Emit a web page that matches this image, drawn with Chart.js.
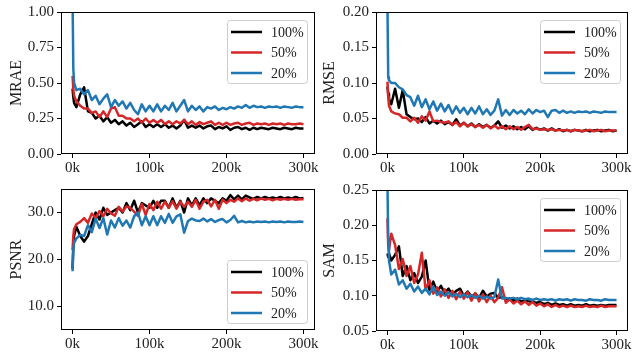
<!DOCTYPE html>
<html>
<head>
<meta charset="utf-8">
<script src="https://cdn.jsdelivr.net/npm/chart.js@4.4.1/dist/chart.umd.min.js"></script>
<style>
body { margin:0; background:#fff; width:633px; height:352px; position:relative; overflow:hidden; }
canvas { position:absolute; }
</style>
</head>
<body>
<canvas id="mrae" width="320" height="176" style="left:0;top:0"></canvas>
<canvas id="rmse" width="320" height="176" style="left:313px;top:0"></canvas>
<canvas id="psnr" width="320" height="176" style="left:0;top:176px"></canvas>
<canvas id="sam" width="320" height="176" style="left:313px;top:176px"></canvas>
<script>
// training iterations (in thousands)
const stepsK = [0,1,2,5,
  10,15,20,25,30,35,40,45,50,55,
  60,65,70,75,80,85,90,95,100,105,
  110,115,120,125,130,135,140,145,150,155,
  160,165,170,175,180,185,190,195,200,205,
  210,215,220,225,230,235,240,245,250,255,
  260,265,270,275,280,285,290,295,300];

const seriesLabels = ['100%', '50%', '20%'];
const seriesColors = ['#000000', '#d62728', '#1f77b4'];
const xTicks = [0, 100, 200, 300];

// MRAE
const mraeFull = [0.46,0.40,0.36,0.33,
  0.42,0.47,0.30,0.29,0.25,0.27,0.23,0.26,0.22,0.24,
  0.21,0.23,0.20,0.22,0.19,0.21,0.23,0.19,0.21,0.19,
  0.21,0.19,0.21,0.185,0.20,0.18,0.20,0.24,0.185,0.20,
  0.185,0.20,0.18,0.195,0.20,0.175,0.19,0.18,0.195,0.17,
  0.185,0.19,0.175,0.185,0.17,0.185,0.175,0.185,0.18,0.175,
  0.185,0.18,0.175,0.185,0.18,0.175,0.185,0.18,0.18];
const mraeHalf = [0.55,0.46,0.41,0.37,
  0.34,0.32,0.32,0.29,0.30,0.26,0.30,0.26,0.32,0.33,
  0.27,0.27,0.25,0.25,0.23,0.25,0.22,0.25,0.22,0.24,
  0.22,0.24,0.21,0.23,0.21,0.23,0.215,0.24,0.21,0.23,
  0.205,0.225,0.21,0.22,0.23,0.205,0.22,0.205,0.22,0.205,
  0.215,0.22,0.205,0.215,0.22,0.205,0.215,0.21,0.215,0.205,
  0.215,0.21,0.215,0.205,0.215,0.21,0.21,0.215,0.21];
const mraeFifth = [1.10,0.60,0.50,0.45,
  0.46,0.42,0.45,0.38,0.41,0.35,0.39,0.42,0.33,0.38,
  0.34,0.37,0.32,0.36,0.31,0.28,0.35,0.30,0.34,0.30,
  0.35,0.30,0.34,0.31,0.36,0.30,0.34,0.38,0.30,0.34,
  0.31,0.335,0.30,0.33,0.32,0.335,0.31,0.325,0.315,0.33,
  0.32,0.335,0.325,0.345,0.325,0.34,0.33,0.335,0.325,0.335,
  0.33,0.335,0.325,0.335,0.33,0.325,0.335,0.33,0.33];
const mraeTicks = [0, 0.25, 0.5, 0.75, 1.0];

// RMSE
const rmseFull = [0.095,0.085,0.078,0.070,
  0.092,0.065,0.090,0.056,0.052,0.049,0.050,0.045,0.052,0.043,
  0.047,0.043,0.047,0.042,0.045,0.041,0.049,0.040,0.044,0.039,
  0.043,0.038,0.042,0.038,0.041,0.037,0.040,0.046,0.037,0.040,
  0.036,0.039,0.035,0.038,0.035,0.039,0.034,0.037,0.034,0.036,
  0.033,0.036,0.033,0.035,0.032,0.034,0.032,0.034,0.033,0.032,
  0.034,0.032,0.033,0.034,0.032,0.033,0.034,0.032,0.033];
const rmseHalf = [0.102,0.080,0.068,0.060,
  0.057,0.056,0.051,0.051,0.046,0.051,0.044,0.053,0.047,0.060,
  0.046,0.047,0.045,0.044,0.046,0.041,0.045,0.039,0.044,0.039,
  0.042,0.038,0.041,0.037,0.041,0.036,0.040,0.036,0.039,0.035,
  0.039,0.035,0.038,0.034,0.038,0.041,0.035,0.036,0.034,0.035,
  0.034,0.035,0.033,0.034,0.033,0.034,0.032,0.034,0.033,0.032,
  0.033,0.034,0.032,0.033,0.034,0.032,0.033,0.033,0.033];
const rmseFifth = [0.210,0.108,0.104,0.100,
  0.100,0.094,0.091,0.083,0.080,0.068,0.082,0.066,0.077,0.063,
  0.074,0.061,0.071,0.060,0.069,0.057,0.067,0.058,0.065,0.056,
  0.065,0.057,0.067,0.056,0.063,0.055,0.061,0.077,0.054,0.062,
  0.055,0.062,0.057,0.061,0.056,0.063,0.057,0.062,0.059,0.061,
  0.052,0.061,0.062,0.058,0.061,0.058,0.060,0.058,0.060,0.059,
  0.060,0.058,0.060,0.059,0.058,0.060,0.059,0.059,0.059];
const rmseTicks = [0, 0.05, 0.1, 0.15, 0.2];

// PSNR
const psnrFull = [18.0,23.0,25.0,27.0,
  25.0,23.8,25.0,27.5,30.0,28.5,31.0,29.5,30.0,30.5,
  31.0,30.0,32.0,30.5,32.5,30.0,32.0,31.5,31.0,32.5,
  31.0,32.5,32.5,31.0,33.0,31.0,32.5,30.0,33.0,31.5,
  33.0,31.5,33.0,32.0,33.0,32.5,32.0,33.0,32.5,33.7,
  32.8,33.6,32.8,33.6,33.2,32.9,33.3,33.0,33.3,33.0,
  33.2,33.0,33.3,33.0,33.2,33.0,33.3,33.0,33.1];
const psnrHalf = [22.0,25.0,26.5,27.5,
  28.0,28.8,27.8,29.8,28.8,30.3,29.2,30.8,29.8,29.3,
  31.2,30.2,31.3,31.0,30.2,29.3,31.8,29.5,31.8,30.5,
  32.3,30.8,32.3,31.0,32.4,30.8,32.3,31.2,32.3,31.2,
  32.7,30.8,32.3,32.7,31.3,32.7,30.8,32.7,32.0,32.7,
  32.3,33.0,32.4,33.0,32.5,32.9,32.6,33.0,32.7,32.9,
  32.6,32.9,32.7,32.9,32.7,32.9,32.7,32.8,32.8];
const psnrFifth = [17.5,22.0,23.5,24.5,
  25.2,25.0,27.3,25.8,28.7,26.7,28.8,25.3,28.3,26.8,
  28.8,27.2,28.3,26.8,29.2,30.0,27.3,29.2,27.3,29.2,
  27.3,29.2,27.8,29.7,27.8,29.2,29.6,25.7,28.2,28.7,
  28.3,28.2,28.7,28.1,28.6,28.0,28.4,28.6,27.9,28.4,
  29.3,27.9,28.2,27.9,28.1,27.9,28.1,28.0,28.1,27.9,
  28.1,28.0,28.1,27.9,28.1,28.0,28.0,28.1,28.0];
const psnrTicks = [10, 20, 30];

// SAM
const samFull = [0.160,0.155,0.160,0.150,
  0.158,0.170,0.128,0.142,0.122,0.132,0.118,0.127,0.150,0.108,
  0.120,0.106,0.114,0.104,0.110,0.101,0.107,0.110,0.100,0.106,
  0.099,0.103,0.097,0.107,0.099,0.103,0.104,0.097,0.098,0.095,
  0.096,0.093,0.096,0.092,0.093,0.092,0.091,0.090,0.091,0.088,
  0.090,0.087,0.089,0.087,0.088,0.086,0.088,0.086,0.087,0.086,
  0.088,0.086,0.087,0.086,0.087,0.086,0.087,0.087,0.087];
const samHalf = [0.210,0.170,0.165,0.188,
  0.172,0.138,0.152,0.128,0.142,0.118,0.130,0.161,0.108,0.122,
  0.103,0.112,0.099,0.109,0.097,0.107,0.095,0.106,0.096,0.105,
  0.093,0.104,0.092,0.102,0.091,0.100,0.091,0.097,0.112,0.090,
  0.095,0.089,0.093,0.088,0.092,0.087,0.091,0.086,0.089,0.085,
  0.088,0.084,0.087,0.084,0.086,0.084,0.086,0.084,0.085,0.084,
  0.086,0.084,0.085,0.084,0.086,0.084,0.085,0.085,0.085];
const samFifth = [0.260,0.180,0.150,0.130,
  0.137,0.116,0.122,0.110,0.117,0.106,0.113,0.104,0.110,0.102,
  0.113,0.101,0.106,0.100,0.105,0.099,0.103,0.098,0.102,0.098,
  0.101,0.097,0.100,0.096,0.099,0.096,0.098,0.123,0.096,0.097,
  0.096,0.097,0.095,0.097,0.095,0.096,0.094,0.096,0.094,0.095,
  0.094,0.095,0.093,0.095,0.094,0.095,0.093,0.095,0.094,0.094,
  0.093,0.095,0.094,0.094,0.093,0.095,0.094,0.094,0.094];
const samTicks = [0.05, 0.1, 0.15, 0.2, 0.25];

const FONT = "'Liberation Serif', 'DejaVu Serif', serif";

// axes frame + matplotlib style legend box
const framePlugin = {
  id: 'frame',
  afterDatasetsDraw(chart) {
    const a = chart.chartArea, ctx = chart.ctx;
    ctx.save();
    ctx.strokeStyle = '#000';
    ctx.lineWidth = 1;
    ctx.strokeRect(Math.round(a.left) + 0.5, Math.round(a.top) + 0.5,
      Math.round(a.right - a.left) - 1, Math.round(a.bottom - a.top) - 1);
    ctx.restore();
  },
  afterDraw(chart) {
    const opts = chart.options.plugins.frame;
    const a = chart.chartArea, ctx = chart.ctx;
    const w = 80, h = 63;
    const x = a.right - 8 - w;
    const y = opts.legendAt === 'lower' ? a.bottom - 7 - h : a.top + 8;
    ctx.save();
    ctx.beginPath();
    ctx.roundRect(x + 0.5, y + 0.5, w, h, 3);
    ctx.fillStyle = 'rgba(255,255,255,0.8)';
    ctx.fill();
    ctx.strokeStyle = '#cccccc';
    ctx.lineWidth = 1;
    ctx.stroke();
    ctx.font = '14px ' + FONT;
    ctx.textBaseline = 'middle';
    chart.data.datasets.forEach((ds, i) => {
      const ry = y + 12 + i * 20.5;
      ctx.beginPath();
      ctx.moveTo(x + 4, ry);
      ctx.lineTo(x + 35, ry);
      ctx.strokeStyle = ds.borderColor;
      ctx.lineWidth = 2.5;
      ctx.stroke();
      ctx.fillStyle = '#222';
      ctx.fillText(ds.label, x + 44, ry + 1);
    });
    ctx.restore();
  }
};

function makeChart(id, title, values, yMin, yMax, yTicks, digits, legendAt, padTop, xHeight, yWidth) {
  const ctx = document.getElementById(id).getContext('2d');
  const datasets = values.map((vals, i) => ({
    label: seriesLabels[i],
    data: stepsK.map((s, j) => ({ x: s, y: vals[j] })),
    borderColor: seriesColors[i],
    borderWidth: 2.5,
    pointRadius: 0,
    tension: 0,
    borderJoinStyle: 'round',
    clip: 0,
    order: 3 - i
  }));
  return new Chart(ctx, {
    type: 'line',
    data: { datasets: datasets },
    options: {
      responsive: false,
      animation: false,
      devicePixelRatio: 1,
      layout: { padding: { left: 0, right: 5, top: padTop, bottom: 0 } },
      scales: {
        x: {
          type: 'linear',
          min: -15, max: 315,
          afterBuildTicks: s => { s.ticks = xTicks.map(v => ({ value: v })); },
          afterFit: s => { s.height = xHeight; },
          grid: { drawOnChartArea: false, drawTicks: true, tickLength: 4, color: '#000' },
          border: { display: false },
          ticks: {
            color: '#222', padding: 1, maxRotation: 0,
            font: { family: FONT, size: 15 },
            callback: v => v + 'k'
          }
        },
        y: {
          min: yMin, max: yMax,
          afterBuildTicks: s => { s.ticks = yTicks.map(v => ({ value: v })); },
          afterFit: s => { s.width = yWidth; },
          grid: { drawOnChartArea: false, drawTicks: true, tickLength: 4, color: '#000' },
          border: { display: false },
          title: {
            display: true, text: title, color: '#222',
            font: { family: FONT, size: 16 },
            padding: { top: 7, bottom: 0 }
          },
          ticks: {
            color: '#222', padding: 3,
            font: { family: FONT, size: 15 },
            callback: v => v.toFixed(digits)
          }
        }
      },
      plugins: {
        legend: { display: false },
        tooltip: { enabled: false },
        frame: { legendAt: legendAt }
      }
    },
    plugins: [framePlugin]
  });
}

makeChart('mrae', 'MRAE', [mraeFull, mraeHalf, mraeFifth], 0, 1, mraeTicks, 2, 'upper', 11, 22, 61);
makeChart('rmse', 'RMSE', [rmseFull, rmseHalf, rmseFifth], 0, 0.2, rmseTicks, 2, 'upper', 11, 22, 63);
makeChart('psnr', 'PSNR', [psnrFull, psnrHalf, psnrFifth], 5, 35, psnrTicks, 1, 'lower', 13, 22, 61);
makeChart('sam', 'SAM', [samFull, samHalf, samFifth], 0.05, 0.25, samTicks, 2, 'upper', 14, 21, 63);
</script>
</body>
</html>
